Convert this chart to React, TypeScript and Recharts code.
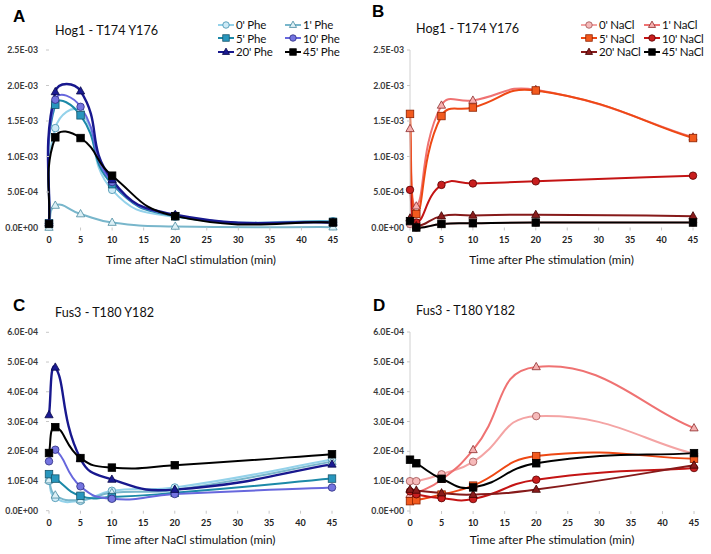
import React from 'react';
import { LineChart, Line, XAxis, YAxis, Legend } from 'recharts';

// sampling times (min) shared by all four panels
const times = [0, 1, 5, 10, 20, 45];
const xTicks = [0, 5, 10, 15, 20, 25, 30, 35, 40, 45];
const hogTicks = [0, 0.0005, 0.001, 0.0015, 0.002, 0.0025];
const fusTicks = [0, 0.0001, 0.0002, 0.0003, 0.0004, 0.0005, 0.0006];

const pheNames = ["0' Phe", "1' Phe", "5' Phe", "10' Phe", "20' Phe", "45' Phe"];
const naclNames = ["0' NaCl", "1' NaCl", "5' NaCl", "10' NaCl", "20' NaCl", "45' NaCl"];

// A: Hog1 T174 Y176, Phe pretreatment, time after NaCl
const hogPhe0 = [0.06e-3, 1.4e-3, 1.63e-3, 0.53e-3, 0.15e-3, 0.09e-3];
const hogPhe1 = [0.0, 0.31e-3, 0.19e-3, 0.07e-3, 0.015e-3, 0.005e-3];
const hogPhe5 = [0.06e-3, 1.73e-3, 1.58e-3, 0.61e-3, 0.16e-3, 0.08e-3];
const hogPhe10 = [0.06e-3, 1.8e-3, 1.7e-3, 0.64e-3, 0.17e-3, 0.07e-3];
const hogPhe20 = [0.06e-3, 1.91e-3, 1.92e-3, 0.67e-3, 0.18e-3, 0.07e-3];
const hogPhe45 = [0.05e-3, 1.27e-3, 1.26e-3, 0.73e-3, 0.16e-3, 0.07e-3];

// B: Hog1 T174 Y176, NaCl pretreatment, time after Phe
const hogNacl0 = [0.05e-3, 0.0, 0.05e-3, 0.06e-3, 0.07e-3, 0.07e-3];
const hogNacl1 = [1.39e-3, 0.3e-3, 1.72e-3, 1.79e-3, 1.94e-3, 1.27e-3];
const hogNacl5 = [1.6e-3, 0.19e-3, 1.57e-3, 1.69e-3, 1.93e-3, 1.26e-3];
const hogNacl10 = [0.53e-3, 0.07e-3, 0.6e-3, 0.62e-3, 0.65e-3, 0.73e-3];
const hogNacl20 = [0.13e-3, 0.02e-3, 0.16e-3, 0.17e-3, 0.18e-3, 0.16e-3];
const hogNacl45 = [0.09e-3, 0.0, 0.05e-3, 0.06e-3, 0.07e-3, 0.07e-3];

// C: Fus3 T180 Y182, Phe pretreatment, time after NaCl
const fusPhe0 = [1.0e-4, 0.43e-4, 0.33e-4, 0.67e-4, 0.78e-4, 1.72e-4];
const fusPhe1 = [1.03e-4, 0.52e-4, 0.36e-4, 0.6e-4, 0.7e-4, 1.65e-4];
const fusPhe5 = [1.23e-4, 1.08e-4, 0.5e-4, 0.46e-4, 0.6e-4, 1.08e-4];
const fusPhe10 = [1.66e-4, 2.05e-4, 0.82e-4, 0.4e-4, 0.56e-4, 0.78e-4];
const fusPhe20 = [3.22e-4, 4.82e-4, 1.75e-4, 1.05e-4, 0.71e-4, 1.56e-4];
const fusPhe45 = [1.94e-4, 2.81e-4, 1.77e-4, 1.45e-4, 1.53e-4, 1.9e-4];

// D: Fus3 T180 Y182, NaCl pretreatment, time after Phe
const fusNacl0 = [1.0e-4, 1.0e-4, 1.23e-4, 1.65e-4, 3.18e-4, 1.92e-4];
const fusNacl1 = [0.55e-4, 0.6e-4, 1.05e-4, 2.05e-4, 4.83e-4, 2.78e-4];
const fusNacl5 = [0.33e-4, 0.36e-4, 0.55e-4, 0.85e-4, 1.84e-4, 1.75e-4];
const fusNacl10 = [0.66e-4, 0.56e-4, 0.43e-4, 0.4e-4, 1.05e-4, 1.44e-4];
const fusNacl20 = [0.72e-4, 0.69e-4, 0.6e-4, 0.55e-4, 0.72e-4, 1.53e-4];
const fusNacl45 = [1.72e-4, 1.6e-4, 1.08e-4, 0.79e-4, 1.6e-4, 1.94e-4];

type Shape = 'circle' | 'triangle' | 'square';
type Style = { line: string; fill: string; stroke: string; shape: Shape; width?: number };

const pheStyles: Style[] = [
  { line: '#94d2ea', fill: '#cdeaf6', stroke: '#3f8eac', shape: 'circle' },
  { line: '#78b6cb', fill: '#dcf0f6', stroke: '#4a8aa0', shape: 'triangle' },
  { line: '#1c89a8', fill: '#2896bd', stroke: '#17566c', shape: 'square' },
  { line: '#6767dd', fill: '#7474e0', stroke: '#2d2d80', shape: 'circle' },
  { line: '#18188e', fill: '#1b1b92', stroke: '#080848', shape: 'triangle', width: 2.4 },
  { line: '#000000', fill: '#000000', stroke: '#000000', shape: 'square' },
];
const naclStyles: Style[] = [
  { line: '#f4a4a4', fill: '#f6baba', stroke: '#a05050', shape: 'circle' },
  { line: '#ef7272', fill: '#f6b0b0', stroke: '#8c2c2c', shape: 'triangle' },
  { line: '#ee4814', fill: '#f25a1e', stroke: '#8c2000', shape: 'square' },
  { line: '#c41414', fill: '#c81e1e', stroke: '#5a0000', shape: 'circle' },
  { line: '#861a1a', fill: '#8a1c1c', stroke: '#3c0000', shape: 'triangle' },
  { line: '#000000', fill: '#000000', stroke: '#000000', shape: 'square' },
];

const toRows = (series: number[][]) =>
  times.map((t, i) => {
    const row: Record<string, number> = { t };
    series.forEach((s, k) => (row['s' + k] = s[i]));
    return row;
  });

const sci = (v: number) => {
  if (v === 0) return '0.0E+00';
  const e = Math.floor(Math.log10(Math.abs(v)) + 1e-9);
  const m = v / Math.pow(10, e);
  return `${m.toFixed(1)}E${e < 0 ? '-' : '+'}${String(Math.abs(e)).padStart(2, '0')}`;
};

// Excel-like smoothed line: bezier through points, tangents weighted by segment length
const excelSmooth = (context: any) => {
  let pts: number[][] = [];
  return {
    areaStart() {},
    areaEnd() {},
    lineStart() {
      pts = [];
    },
    point(x: number, y: number) {
      pts.push([+x, +y]);
    },
    lineEnd() {
      const n = pts.length;
      if (!n) return;
      const d = (a: number[], b: number[]) => Math.hypot(b[0] - a[0], b[1] - a[1]);
      context.moveTo(pts[0][0], pts[0][1]);
      for (let i = 0; i < n - 1; i++) {
        const p0 = pts[Math.max(i - 1, 0)];
        const p1 = pts[i];
        const p2 = pts[i + 1];
        const p3 = pts[Math.min(i + 2, n - 1)];
        const d01 = d(p0, p1);
        const d12 = d(p1, p2);
        const d23 = d(p2, p3);
        const f1 = d01 > 0 ? (0.5 * d12) / (d01 + d12) : 1 / 3;
        const f2 = d23 > 0 ? (0.5 * d12) / (d12 + d23) : 1 / 3;
        context.bezierCurveTo(
          p1[0] + (p2[0] - p0[0]) * f1,
          p1[1] + (p2[1] - p0[1]) * f1,
          p2[0] - (p3[0] - p1[0]) * f2,
          p2[1] - (p3[1] - p1[1]) * f2,
          p2[0],
          p2[1]
        );
      }
    },
  };
};

const Marker = ({ cx, cy, st, size = 7.5 }: { cx?: number; cy?: number; st: Style; size?: number }) => {
  if (cx == null || cy == null) return null;
  const r = size / 2;
  if (st.shape === 'circle')
    return <circle cx={cx} cy={cy} r={r} fill={st.fill} stroke={st.stroke} strokeWidth={0.8} />;
  if (st.shape === 'square')
    return <rect x={cx - r} y={cy - r} width={size} height={size} fill={st.fill} stroke={st.stroke} strokeWidth={0.8} />;
  const pts = `${cx},${cy - r * 1.2} ${cx - r * 1.1},${cy + r * 0.75} ${cx + r * 1.1},${cy + r * 0.75}`;
  return <polygon points={pts} fill={st.fill} stroke={st.stroke} strokeWidth={0.8} />;
};

const LegendBox = ({ names, styles, col }: { names: string[]; styles: Style[]; col: number }) => (
  <div style={{ display: 'grid', gridTemplateColumns: `${col}px auto`, rowGap: 0, fontFamily: 'Lato', fontSize: 11.5, letterSpacing: -0.2, color: '#111' }}>
    {names.map((n, i) => (
      <div key={n} style={{ display: 'flex', alignItems: 'center', height: 13.5 }}>
        <svg width={16} height={10} style={{ overflow: 'visible' }}>
          <line x1={0} y1={5} x2={16} y2={5} stroke={styles[i].line} strokeWidth={2} />
          <Marker cx={8} cy={5} st={styles[i]} size={6.5} />
        </svg>
        <span style={{ marginLeft: 2, whiteSpace: 'nowrap' }}>{n}</span>
      </div>
    ))}
  </div>
);

type PanelProps = {
  left: number;
  top: number;
  width: number;
  height: number;
  margin: { top: number; right: number; bottom: number; left: number };
  yWidth: number;
  xHeight: number;
  yTicks: number[];
  yAxisLine: boolean;
  yTickMargin: number;
  series: number[][];
  names: string[];
  styles: Style[];
  legend: { left: number; top: number; col: number };
  letter: string;
  letterPos: [number, number];
  title: string;
  titlePos: [number, number];
  xLabel: string;
};

const Panel = (p: PanelProps) => {
  const data = toRows(p.series);
  const tickStyle = { fontFamily: 'Lato', fontWeight: 700, fill: '#3a3a3a' };
  return (
    <div style={{ position: 'absolute', left: p.left, top: p.top, width: p.width, height: p.height }}>
      <LineChart width={p.width} height={p.height} data={data} margin={p.margin}>
        <XAxis
          type="number"
          dataKey="t"
          domain={[0, 45]}
          ticks={xTicks}
          height={p.xHeight}
          axisLine={false}
          tickLine={{ stroke: '#c8c8c8' }}
          tickSize={3}
          tickMargin={6}
          tick={{ ...tickStyle, fontSize: 9, fill: '#222' }}
          label={{ value: p.xLabel, position: 'insideBottom', offset: 0, style: { fontFamily: 'Lato', fontSize: 11.8, fill: '#111' } }}
        />
        <YAxis
          type="number"
          domain={[0, p.yTicks[p.yTicks.length - 1]]}
          ticks={p.yTicks}
          width={p.yWidth}
          axisLine={p.yAxisLine ? { stroke: '#d0d0d0' } : false}
          tickLine={{ stroke: '#c8c8c8' }}
          tickSize={3}
          tickMargin={p.yTickMargin}
          tickFormatter={sci}
          tick={{ ...tickStyle, fontSize: 8.8 }}
          interval={0}
        />
        <Legend
          layout="horizontal"
          verticalAlign="middle"
          align="center"
          wrapperStyle={{ left: p.legend.left, top: p.legend.top, width: 140 }}
          content={() => <LegendBox names={p.names} styles={p.styles} col={p.legend.col} />}
        />
        {p.series.map((_, k) => (
          <Line
            key={k}
            dataKey={'s' + k}
            name={p.names[k]}
            type={excelSmooth as any}
            stroke={p.styles[k].line}
            strokeWidth={p.styles[k].width ?? 2}
            isAnimationActive={false}
            dot={(d: any) => <Marker key={`${k}-${d.index}`} cx={d.cx} cy={d.cy} st={p.styles[k]} />}
            activeDot={false}
          />
        ))}
      </LineChart>
      <div style={{ position: 'absolute', left: p.letterPos[0], top: p.letterPos[1] - 10, lineHeight: '20px', fontFamily: 'Liberation Sans', fontWeight: 700, fontSize: 17, color: '#000' }}>
        {p.letter}
      </div>
      <div style={{ position: 'absolute', left: p.titlePos[0], top: p.titlePos[1] - 9, lineHeight: '18px', fontFamily: 'Lato', fontSize: 12.6, color: '#111', whiteSpace: 'nowrap' }}>
        {p.title}
      </div>
    </div>
  );
};

export default function App() {
  return (
    <div style={{ position: 'absolute', left: 0, top: 0, width: 711, height: 554, background: '#fff', overflow: 'hidden' }}>
      <Panel
        left={0}
        top={0}
        width={355}
        height={270}
        margin={{ top: 50, right: 22, bottom: 6.5, left: 0 }}
        yWidth={49}
        xHeight={36}
        yTicks={hogTicks}
        yAxisLine={false}
        yTickMargin={8}
        series={[hogPhe0, hogPhe1, hogPhe5, hogPhe10, hogPhe20, hogPhe45]}
        names={pheNames}
        styles={pheStyles}
        legend={{ left: 218, top: 18, col: 67 }}
        letter="A"
        letterPos={[13, 17]}
        title="Hog1 - T174 Y176"
        titlePos={[55, 31]}
        xLabel="Time after NaCl stimulation (min)"
      />
      <Panel
        left={355}
        top={0}
        width={356}
        height={270}
        margin={{ top: 50, right: 18, bottom: 6.5, left: 0 }}
        yWidth={55}
        xHeight={36}
        yTicks={hogTicks}
        yAxisLine={true}
        yTickMargin={3}
        series={[hogNacl0, hogNacl1, hogNacl5, hogNacl10, hogNacl20, hogNacl45]}
        names={naclNames}
        styles={naclStyles}
        legend={{ left: 226, top: 18, col: 63 }}
        letter="B"
        letterPos={[17, 12]}
        title="Hog1 - T174 Y176"
        titlePos={[61, 29]}
        xLabel="Time after Phe stimulation (min)"
      />
      <Panel
        left={0}
        top={270}
        width={355}
        height={284}
        margin={{ top: 62.3, right: 23, bottom: 10.3, left: 0 }}
        yWidth={49}
        xHeight={33}
        yTicks={fusTicks}
        yAxisLine={false}
        yTickMargin={8}
        series={[fusPhe0, fusPhe1, fusPhe5, fusPhe10, fusPhe20, fusPhe45]}
        names={[]}
        styles={pheStyles}
        legend={{ left: 0, top: 0, col: 0 }}
        letter="C"
        letterPos={[13, 36]}
        title="Fus3 - T180 Y182"
        titlePos={[55, 43]}
        xLabel="Time after NaCl stimulation (min)"
      />
      <Panel
        left={355}
        top={270}
        width={356}
        height={284}
        margin={{ top: 62, right: 17, bottom: 10, left: 0 }}
        yWidth={55}
        xHeight={33}
        yTicks={fusTicks}
        yAxisLine={true}
        yTickMargin={3}
        series={[fusNacl0, fusNacl1, fusNacl5, fusNacl10, fusNacl20, fusNacl45]}
        names={[]}
        styles={naclStyles}
        legend={{ left: 0, top: 0, col: 0 }}
        letter="D"
        letterPos={[18, 36]}
        title="Fus3 - T180 Y182"
        titlePos={[61, 41]}
        xLabel="Time after Phe stimulation (min)"
      />
    </div>
  );
}
